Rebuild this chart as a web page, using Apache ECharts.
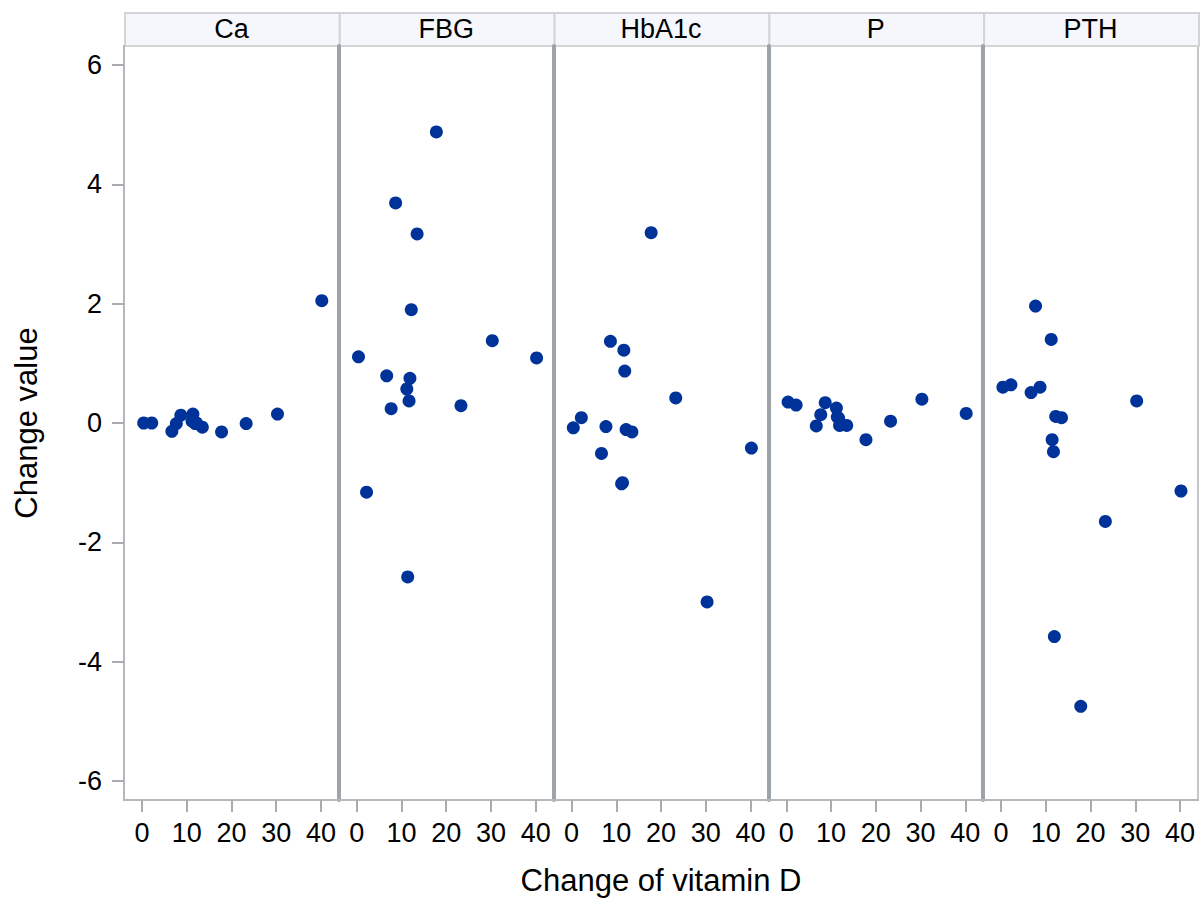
<!DOCTYPE html>
<html lang="en">
<head>
    <meta charset="UTF-8">
    <title>Change value vs change of vitamin D</title>
    <script src="https://cdn.jsdelivr.net/npm/echarts@6/dist/echarts.min.js"></script>
    <style>
        html, body { margin: 0; padding: 0; background: #fff; }
        #main { width: 1204px; height: 899px; }
    </style>
</head>
<body>
    <div id="main"></div>
    <script>
        // panel names and shared x values (change of vitamin D)
        const panels = ['Ca', 'FBG', 'HbA1c', 'P', 'PTH'];
        const vitD = [0.4, 2.2, 6.7, 7.7, 8.7, 11.2, 11.4, 11.7, 11.9, 12.2, 13.5, 17.8, 23.3, 30.3, 40.2];

        // change value per panel, same order as vitD
        const ca    = [0.00, 0.00, -0.14, -0.01, 0.13, 0.03, 0.15, 0.02, -0.01, 0.00, -0.07, -0.15, -0.01, 0.15, 2.05];
        const fbg   = [1.11, -1.16, 0.79, 0.24, 3.69, 0.57, -2.58, 0.37, 0.75, 1.90, 3.17, 4.88, 0.29, 1.38, 1.09];
        const hba1c = [-0.08, 0.09, -0.51, -0.06, 1.37, -1.02, -1.00, 1.22, 0.87, -0.11, -0.15, 3.19, 0.42, -3.00, -0.42];
        const pVals = [0.35, 0.30, -0.05, 0.14, 0.34, 0.25, 0.10, 0.08, -0.04, -0.03, -0.04, -0.28, 0.03, 0.40, 0.16];
        const pth   = [0.60, 0.64, 0.51, 1.96, 0.60, 1.40, -0.28, -0.48, -3.58, 0.11, 0.09, -4.75, -1.65, 0.37, -1.14];
        const panelValues = [ca, fbg, hba1c, pVals, pth];

        // tick labels
        const xTicks = [0, 10, 20, 30, 40];
        const yTicks = [-6, -4, -2, 0, 2, 4, 6];

        const font = 'Liberation Sans, Arial, sans-serif';
        const left0 = 124, panelW = 214.8, top0 = 46, panelH = 754;

        let chart = echarts.init(document.getElementById('main'), null, {renderer: 'svg'});

        let grids = [], xAxes = [], yAxes = [], series = [], graphics = [];
        panels.forEach(function (name, i) {
            let gx = left0 + i * panelW;
            grids.push({
                left: gx, top: top0, width: panelW, height: panelH,
                show: true, borderColor: '#c4c8cc', borderWidth: 2
            });
            xAxes.push({
                type: 'value', gridIndex: i, min: -4, max: 44,
                axisLine: {show: true, onZero: false, lineStyle: {color: '#b4b8bc', width: 2}},
                axisTick: {show: true, customValues: xTicks, length: 12, lineStyle: {color: '#a8acb0', width: 2}},
                axisLabel: {customValues: xTicks, fontSize: 27, color: '#000', margin: 19, fontFamily: font},
                splitLine: {show: false}
            });
            yAxes.push({
                type: 'value', gridIndex: i, min: -6.32, max: 6.32,
                name: i === 0 ? 'Change value' : '',
                nameLocation: 'middle', nameGap: 82,
                nameTextStyle: {fontSize: 31, color: '#000', fontFamily: font},
                axisLine: {show: true, onZero: false, lineStyle: {color: i === 0 ? '#b4b8bc' : '#9ea3a8', width: i === 0 ? 2 : 4}},
                axisTick: {show: i === 0, customValues: yTicks, length: 12, lineStyle: {color: '#a8acb0', width: 2}},
                axisLabel: {show: i === 0, customValues: yTicks, fontSize: 27, color: '#000', margin: 22, fontFamily: font},
                splitLine: {show: false}
            });
            series.push({
                type: 'scatter', xAxisIndex: i, yAxisIndex: i,
                symbolSize: 13,
                itemStyle: {color: '#003399', opacity: 1},
                data: vitD.map(function (x, j) { return [x, panelValues[i][j]]; })
            });
            // panel header
            graphics.push({
                type: 'rect', left: gx, top: 12,
                shape: {width: panelW, height: 33},
                style: {fill: '#f5f7fd', stroke: '#d2d4d6', lineWidth: 2}
            });
            graphics.push({
                type: 'text', x: gx + panelW / 2, y: 29,
                style: {text: name, textAlign: 'center', textVerticalAlign: 'middle', font: '27px ' + font, fill: '#000'}
            });
        });

        graphics.push({
            type: 'text', x: left0 + panelW * 2.5, y: 880,
            style: {text: 'Change of vitamin D', textAlign: 'center', textVerticalAlign: 'middle', font: '31px ' + font, fill: '#000'}
        });

        let option = {
            backgroundColor: '#fff',
            animation: false,
            textStyle: {fontFamily: font},
            grid: grids,
            xAxis: xAxes,
            yAxis: yAxes,
            series: series,
            graphic: graphics
        };
        chart.setOption(option);
    </script>
</body>
</html>
